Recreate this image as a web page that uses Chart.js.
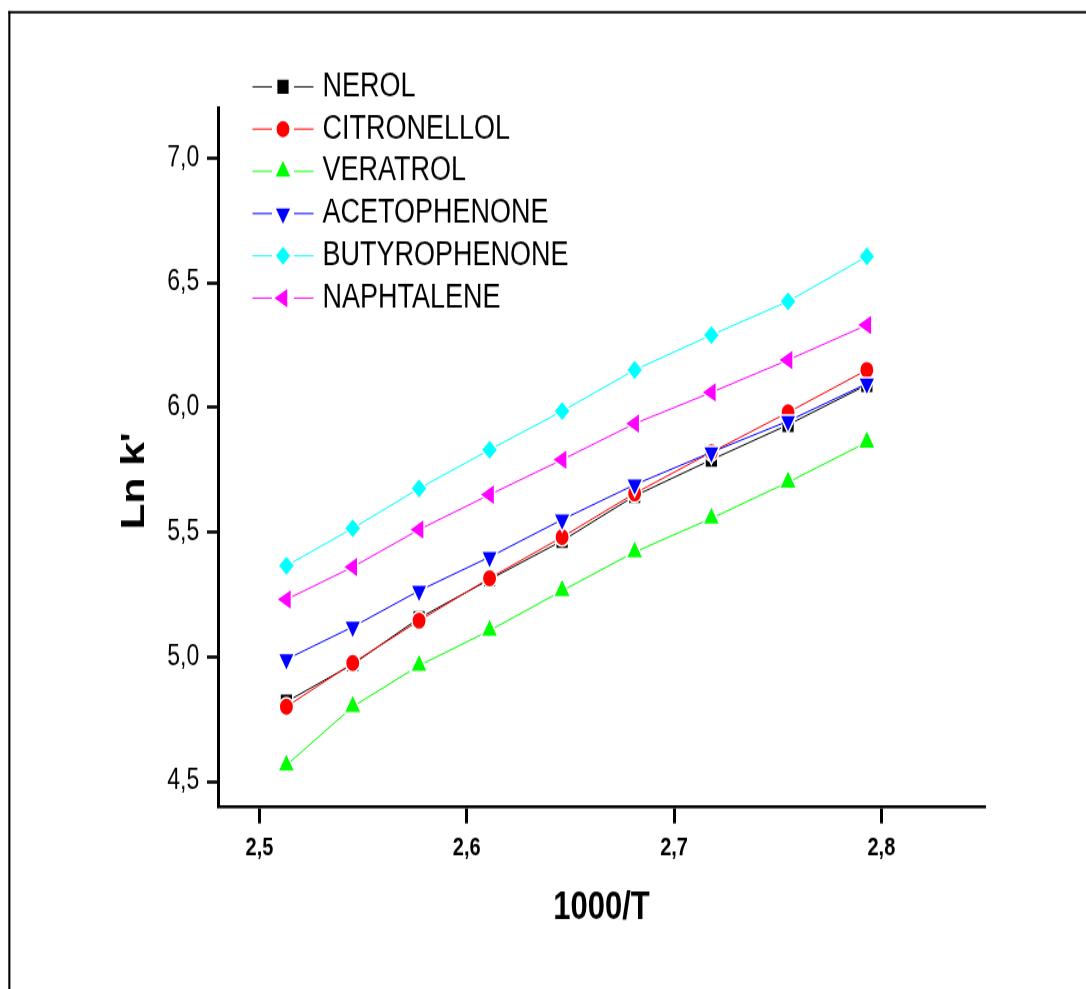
<!DOCTYPE html>
<html>
<head>
<meta charset="utf-8">
<script src="https://cdn.jsdelivr.net/npm/chart.js@4.4.1/dist/chart.umd.min.js"></script>
<style>
html, body { margin: 0; padding: 0; background: #fff; overflow: hidden; }
#wrap { position: absolute; left: 0; top: 0; width: 1086px; height: 791px;
        transform: scale(1, 1.2503); transform-origin: 0 0; }
</style>
</head>
<body>
<div id="wrap"><canvas id="c"></canvas></div>
<script>
// ---- data ----
const xValues = [2.513, 2.545, 2.577, 2.611, 2.646, 2.681, 2.718, 2.755, 2.793];
const seriesNames = ['NEROL', 'CITRONELLOL', 'VERATROL', 'ACETOPHENONE', 'BUTYROPHENONE', 'NAPHTALENE'];
const nerol        = [4.82, 4.97, 5.155, 5.31, 5.465, 5.645, 5.79, 5.93, 6.09];
const citronellol  = [4.80, 4.975, 5.145, 5.315, 5.48, 5.655, 5.82, 5.98, 6.15];
const veratrol     = [4.565, 4.80, 4.965, 5.105, 5.265, 5.42, 5.555, 5.70, 5.86];
const acetophenone = [4.99, 5.12, 5.265, 5.40, 5.55, 5.69, 5.82, 5.945, 6.095];
const butyrophenone= [5.365, 5.515, 5.675, 5.83, 5.985, 6.15, 6.29, 6.425, 6.605];
const naphtalene   = [5.23, 5.36, 5.51, 5.65, 5.79, 5.935, 6.06, 6.19, 6.33];
const yTicks = [4.5, 5.0, 5.5, 6.0, 6.5, 7.0];
const yTickLabels = ['4,5', '5,0', '5,5', '6,0', '6,5', '7,0'];
const xTicks = [2.5, 2.6, 2.7, 2.8];
const xTickLabels = ['2,5', '2,6', '2,7', '2,8'];
const xTitle = '1000/T';
const yTitle = "Ln k'";

// ---- styles ----
const seriesValues = [nerol, citronellol, veratrol, acetophenone, butyrophenone, naphtalene];
const colors = ['#000000', '#ff0000', '#00ff00', '#0000ff', '#00ffff', '#ff00ff'];
const pointStyles = ['rect', 'circle', 'triangle', 'triangle', 'rectRot', 'triangle'];
const rotations = [0, 0, 0, 180, 0, 270];
const radii = [9, 7.2, 10, 9.6, 8.3, 10];
const FONT = '"Liberation Sans", Arial, Helvetica, sans-serif';

Chart.defaults.font.family = FONT;
Chart.defaults.color = '#000';

const datasets = seriesNames.map((name, i) => ({
  label: name,
  data: xValues.map((x, j) => ({ x: x, y: seriesValues[i][j] })),
  borderColor: colors[i],
  backgroundColor: colors[i],
  borderWidth: 1,
  pointStyle: pointStyles[i],
  pointRotation: rotations[i],
  pointRadius: radii[i],
  pointBackgroundColor: colors[i],
  pointBorderColor: '#ffffff',
  pointBorderWidth: 1.5,
  tension: 0,
  order: -i
}));

const framePlugin = {
  id: 'frame',
  beforeDraw(chart) {
    const ctx = chart.ctx;
    ctx.save();
    ctx.fillStyle = '#000';
    ctx.fillRect(8.3, 8.8, 1100, 1.9);
    ctx.fillRect(8.3, 8.8, 2.1, 800);
    ctx.restore();
  }
};

const legendPlugin = {
  id: 'originLegend',
  afterDraw(chart) {
    const ctx = chart.ctx;
    ctx.save();
    chart.data.datasets.forEach((ds, i) => {
      const y = 69.4 + i * 33.8;
      ctx.strokeStyle = ds.borderColor;
      ctx.lineWidth = 1;
      ctx.beginPath();
      ctx.moveTo(252.5, y); ctx.lineTo(272, y);
      ctx.moveTo(294, y); ctx.lineTo(313.5, y);
      ctx.stroke();
      ctx.fillStyle = ds.pointBackgroundColor;
      ctx.strokeStyle = ds.pointBorderColor;
      ctx.lineWidth = ds.pointBorderWidth;
      Chart.helpers.drawPoint(ctx, {
        pointStyle: ds.pointStyle, rotation: ds.pointRotation,
        radius: ds.pointRadius, borderWidth: ds.pointBorderWidth
      }, 283, y);
      ctx.fillStyle = '#000';
      ctx.font = '27px ' + FONT;
      ctx.textBaseline = 'middle';
      ctx.textAlign = 'left';
      ctx.fillText(ds.label, 322.5, y);
    });
    ctx.restore();
  }
};

new Chart(document.getElementById('c'), {
  type: 'line',
  data: { datasets: datasets },
  plugins: [framePlugin, legendPlugin],
  options: {
    responsive: true,
    maintainAspectRatio: false,
    animation: false,
    events: [],
    layout: { padding: { left: 0, right: 101, top: 86.4, bottom: 0 } },
    plugins: { legend: { display: false }, tooltip: { enabled: false } },
    scales: {
      x: {
        type: 'linear', min: 2.48, max: 2.85,
        afterBuildTicks: s => { s.ticks = xTicks.map(v => ({ value: v })); },
        afterFit: s => { s.height = 146; },
        ticks: {
          autoSkip: false, maxRotation: 0, padding: 7.7, color: '#000',
          font: { size: 20, weight: 'bold' },
          callback: (v, i) => xTickLabels[i]
        },
        grid: { display: true, drawOnChartArea: false, drawTicks: true, tickLength: 13.6, tickWidth: 3, tickColor: '#000' },
        border: { display: true, color: '#000', width: 2.6 },
        title: { display: true, text: xTitle, color: '#000', font: { size: 31, weight: 'bold' }, padding: { top: 0, bottom: 46.4 } }
      },
      y: {
        type: 'linear', min: 4.4, max: 7.2,
        afterBuildTicks: s => { s.ticks = yTicks.map(v => ({ value: v })); },
        afterFit: s => { s.width = 218; },
        ticks: {
          autoSkip: false, padding: 7.7, color: '#000',
          font: { size: 23 },
          callback: (v, i) => yTickLabels[i]
        },
        grid: { display: true, drawOnChartArea: false, drawTicks: true, tickLength: 11, tickWidth: 2.6, tickColor: '#000' },
        border: { display: true, color: '#000', width: 3 },
        title: { display: true, text: yTitle + '    ', color: '#000', font: { size: 34, weight: 'bold' }, padding: { top: 114.6, bottom: 0 } }
      }
    }
  }
});
</script>
</body>
</html>
